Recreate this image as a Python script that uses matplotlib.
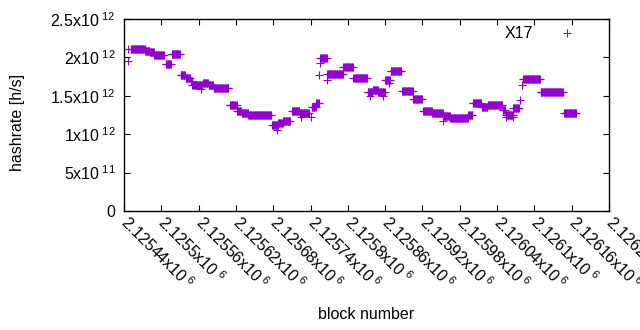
import numpy as np
import matplotlib
matplotlib.use('Agg')
import matplotlib.pyplot as plt

plt.rcParams['font.family'] = ['Liberation Sans', 'DejaVu Sans']
plt.rcParams['mathtext.fontset'] = 'custom'
plt.rcParams['mathtext.rm'] = 'Liberation Sans'
plt.rcParams['mathtext.it'] = 'Liberation Sans:italic'
plt.rcParams['mathtext.bf'] = 'Liberation Sans:bold'

# runs of blocks with the same hashrate: first block, last block, hashrate [h/s]
run_start = [2125451, 2125474, 2125482, 2125489, 2125507, 2125517, 2125531, 2125539,
             2125547, 2125550, 2125567, 2125576, 2125584, 2125610, 2125622, 2125629,
             2125640, 2125678, 2125688, 2125696, 2125710, 2125723, 2125742, 2125749,
             2125756, 2125767, 2125793, 2125809, 2125832, 2125840, 2125849, 2125860,
             2125869, 2125887, 2125905, 2125921, 2125936, 2125954, 2125965, 2125994,
             2126001, 2126015, 2126025, 2126049, 2126054, 2126066, 2126082, 2126110,
             2126148]
run_end = [2125473, 2125481, 2125488, 2125504, 2125515, 2125530, 2125538, 2125546,
           2125549, 2125566, 2125575, 2125583, 2125608, 2125621, 2125628, 2125639,
           2125677, 2125687, 2125695, 2125707, 2125722, 2125737, 2125748, 2125753,
           2125766, 2125792, 2125808, 2125831, 2125839, 2125848, 2125859, 2125867,
           2125886, 2125904, 2125919, 2125935, 2125953, 2125964, 2125993, 2126000,
           2126014, 2126024, 2126048, 2126053, 2126065, 2126075, 2126109, 2126146,
           2126167]
run_rate = [2.105e12, 2.087e12, 2.066e12, 2.031e12, 1.914e12, 2.044e12, 1.771e12, 1.736e12,
            1.697e12, 1.637e12, 1.671e12, 1.641e12, 1.602e12, 1.380e12, 1.306e12, 1.280e12,
            1.250e12, 1.120e12, 1.142e12, 1.176e12, 1.302e12, 1.272e12, 1.350e12, 1.410e12,
            1.988e12, 1.784e12, 1.871e12, 1.728e12, 1.546e12, 1.576e12, 1.546e12, 1.706e12,
            1.819e12, 1.563e12, 1.458e12, 1.306e12, 1.272e12, 1.237e12, 1.207e12, 1.250e12,
            1.402e12, 1.358e12, 1.376e12, 1.315e12, 1.250e12, 1.337e12, 1.715e12, 1.546e12,
            1.272e12]

# odd single blocks that stick out of the runs
single_block = [2125446, 2125447, 2125564, 2125686, 2125725, 2125740, 2125754, 2125755,
                2125767, 2125836, 2125857, 2125866, 2125953, 2126054, 2126065, 2126077,
                2126080]
single_rate = [1.953e12, 2.109e12, 1.584e12, 1.060e12, 1.224e12, 1.224e12, 1.770e12, 1.930e12,
               1.706e12, 1.500e12, 1.500e12, 1.670e12, 1.176e12, 1.220e12, 1.220e12, 1.445e12,
               1.640e12]

xtick_values = [2125440 + 60 * i for i in range(14)]
xtick_labels = ['2.12544', '2.1255', '2.12556', '2.12562', '2.12568', '2.12574', '2.1258',
                '2.12586', '2.12592', '2.12598', '2.12604', '2.1261', '2.12616', '2.12622']
ytick_values = [0, 5e11, 1e12, 1.5e12, 2e12, 2.5e12]
ytick_labels = ['0', r'5x10$^{\ 11}$', r'1x10$^{\ 12}$', r'1.5x10$^{\ 12}$',
                r'2x10$^{\ 12}$', r'2.5x10$^{\ 12}$']

# expand the runs into one point per block
blocks = []
rates = []
for s, e, r in zip(run_start, run_end, run_rate):
    for b in range(s, e + 1):
        blocks.append(b)
        rates.append(r)
blocks += single_block
rates += single_rate

fig = plt.figure(figsize=(6.4, 3.3), dpi=100)
ax = fig.add_axes([124 / 640, 1 - 211 / 330, 485 / 640, 192 / 330])

ax.plot(blocks, rates, '+', color='#9400D3', markersize=5.5, markeredgewidth=0.8,
        label='X17')

ax.set_xlim(2125440, 2126220)
ax.set_ylim(0, 2.5e12)
ax.set_xticks(xtick_values)
ax.set_xticklabels([l + r'x10$^{\ 6}$' for l in xtick_labels], rotation=-45,
                   rotation_mode='anchor', ha='left', va='center', fontsize=11.5)
ax.set_yticks(ytick_values)
ax.set_yticklabels(ytick_labels, fontsize=11.5)
ax.tick_params(direction='in', top=True, right=True, length=4, width=0.8, pad=6)
ax.tick_params(axis='x', pad=6)
for sp in ax.spines.values():
    sp.set_linewidth(1.0)

ax.set_xlabel('block number', fontsize=11.5)
ax.xaxis.set_label_coords(0.5, -0.50)
ax.set_ylabel('hashrate [h/s]', fontsize=11.5)
ax.yaxis.set_label_coords(-0.205, 0.46)

leg = ax.legend(loc='upper right', frameon=False, markerfirst=False, fontsize=11.5,
                handlelength=1.5, borderaxespad=0.3, handletextpad=1.4,
                bbox_to_anchor=(0.962, 1.02))

fig.savefig('out.png', dpi=100)
